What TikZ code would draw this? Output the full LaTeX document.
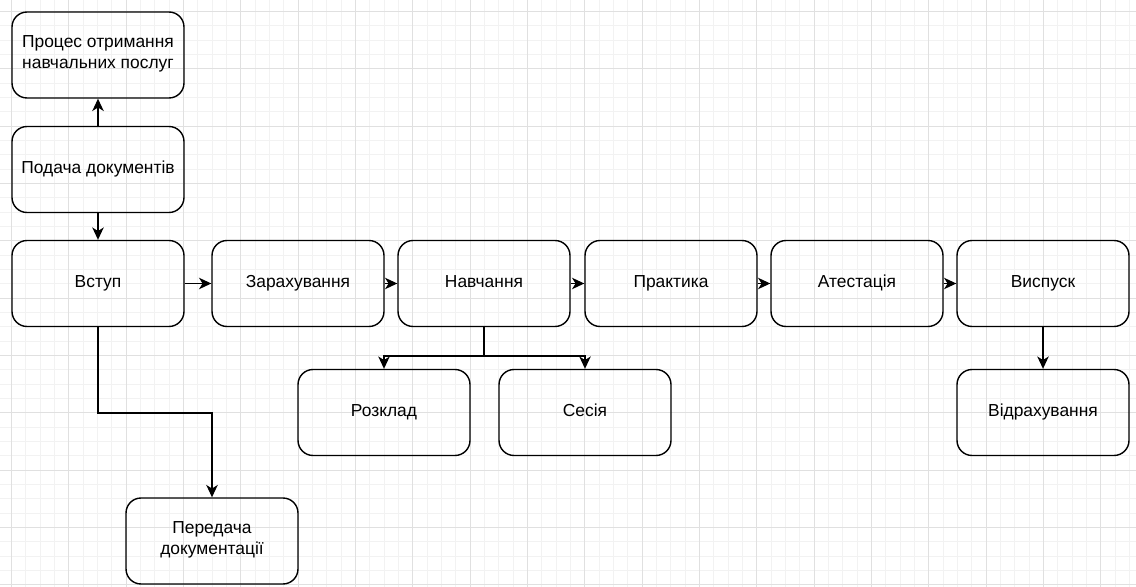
\documentclass[tikz,border=0pt]{standalone}
\usepackage{fontspec}
\setmainfont{Liberation Sans}
\usetikzlibrary{arrows.meta}

\newcommand{\boxstrut}{\rule[-3.5pt]{0pt}{10.6pt}}

\begin{document}
\begin{tikzpicture}[x=0.02cm,y=-0.02cm,
        every node/.style={inner sep=0},
        box/.style={draw,rounded corners=0.3cm,line width=0.8pt,minimum width=3.44cm,minimum height=1.72cm,align=center,font=\fontsize{9.9}{11.6}\selectfont,execute at begin node=\boxstrut,execute at end node=\strut},
        link/.style={line width=0.8pt,-{Stealth[length=7pt,width=6.5pt,inset=2pt]}},
        minorline/.style={draw=black!5,line width=0.5pt},
        majorline/.style={draw=black!12,line width=0.5pt}]
            \useasboundingbox (0,0) rectangle (1136,587);
            \fill[white] (0,0) rectangle (1136,587);
            \foreach \k in {-1,...,78} \draw[minorline] ({11.5+\k*14.333},0) -- ({11.5+\k*14.333},587);
            \foreach \k in {-1,...,40} \draw[minorline] (0,{11.5+\k*14.333}) -- (1136,{11.5+\k*14.333});
            \foreach \k in {0,...,19} \draw[majorline] ({11.5+\k*57.333},0) -- ({11.5+\k*57.333},587);
            \foreach \k in {0,...,10} \draw[majorline] (0,{11.5+\k*57.333}) -- (1136,{11.5+\k*57.333});

            \node[box] (proc) at (98,55){Процес отримання\\навчальних послуг};
            \node[box] (podacha) at (98,169.5){Подача документів};
            \node[box] (vstup) at (98,283.5){Вступ};
            \node[box] (zarakh) at (298,283.5){Зарахування};
            \node[box] (navch) at (484,283.5){Навчання};
            \node[box] (prakt) at (671,283.5){Практика};
            \node[box] (atest) at (857,283.5){Атестація};
            \node[box] (vyspusk) at (1043,283.5){Виспуск};
            \node[box] (rozklad) at (384,412.5){Розклад};
            \node[box] (sesiya) at (585,412.5){Сесія};
            \node[box] (vidrakh) at (1043,412.5){Відрахування};
            \node[box] (peredacha) at (212,541){Передача\\документації};

            \draw[link] (podacha) -- (proc);
            \draw[link] (podacha) -- (vstup);
            \draw[link] (vstup) -- (zarakh);
            \draw[link] (zarakh) -- (navch);
            \draw[link] (navch) -- (prakt);
            \draw[link] (prakt) -- (atest);
            \draw[link] (atest) -- (vyspusk);
            \draw[link] (vyspusk) -- (vidrakh);
            \draw[link] (navch.south) -- ++(0,29) -| (rozklad.north);
            \draw[link] (navch.south) -- ++(0,29) -| (sesiya.north);
            \draw[link] (vstup.south) -- ++(0,86) -| (peredacha.north);
        \end{tikzpicture}
\end{document}
